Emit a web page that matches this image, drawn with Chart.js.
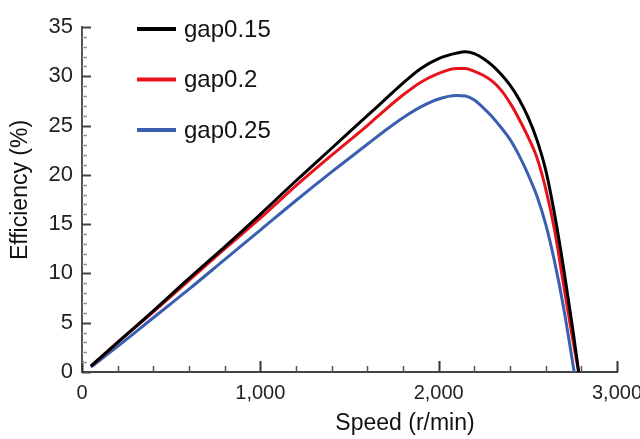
<!DOCTYPE html>
<html>
<head>
<meta charset="utf-8">
<script src="https://cdn.jsdelivr.net/npm/chart.js@4/dist/chart.umd.min.js"></script>
<style>
  body { margin: 0; background: #fff; }
  #wrap { width: 640px; height: 439px; }
</style>
</head>
<body>
<div id="wrap"><canvas id="myChart"></canvas></div>
<script>
const seriesNames = ["gap0.15", "gap0.2", "gap0.25"];
const seriesColors = ["#000000", "#e8121c", "#3b5fb0"];

const speed015 = [50, 200, 400, 600, 800, 1000, 1200, 1400, 1600, 1700, 1800, 1900, 2000, 2100, 2150, 2200, 2250, 2300, 2350, 2400, 2450, 2500, 2550, 2600, 2650, 2700, 2750, 2785];
const eff015 = [0.6, 3.0, 6.2, 9.5, 12.7, 16.0, 19.4, 22.7, 26.0, 27.65, 29.3, 30.8, 31.8, 32.35, 32.5, 32.3, 31.8, 31.1, 30.2, 29.1, 27.7, 25.9, 23.6, 20.5, 16.0, 10.6, 4.6, 0];

const speed02 = [50, 200, 400, 600, 800, 1000, 1200, 1400, 1600, 1700, 1800, 1900, 2000, 2100, 2150, 2200, 2250, 2300, 2350, 2400, 2450, 2500, 2550, 2600, 2650, 2700, 2750, 2785];
const eff02 = [0.6, 3.0, 6.1, 9.3, 12.5, 15.6, 18.9, 22.0, 25.0, 26.6, 28.1, 29.4, 30.3, 30.8, 30.8, 30.5, 30.1, 29.5, 28.6, 27.3, 25.7, 23.9, 21.8, 18.6, 14.4, 8.9, 3.5, 0];

const speed025 = [50, 200, 400, 600, 800, 1000, 1200, 1400, 1600, 1700, 1800, 1900, 2000, 2100, 2150, 2200, 2250, 2300, 2350, 2400, 2450, 2500, 2550, 2600, 2650, 2700, 2760];
const eff025 = [0.5, 2.6, 5.5, 8.4, 11.4, 14.4, 17.4, 20.3, 23.1, 24.5, 25.8, 26.9, 27.7, 28.05, 28.0, 27.6, 26.8, 25.9, 24.8, 23.6, 22.0, 20.1, 17.9, 15.0, 11.2, 6.6, 0];

const xTitle = "Speed (r/min)";
const yTitle = "Efficiency (%)";
const xMajor = 1000, xMinor = 200;
const yMajor = 5, yMinor = 1;

const toPoints = (xs, ys) => xs.map((x, i) => ({ x: x, y: ys[i] }));
const speeds = [speed015, speed02, speed025];
const effs = [eff015, eff02, eff025];

// inward ticks, legend box and axis titles
const decorations = {
  id: "decorations",
  afterDraw(chart) {
    const ctx = chart.ctx;
    const area = chart.chartArea;
    const xs = chart.scales.x;
    const ys = chart.scales.y;
    ctx.save();
    for (let v = xs.min; v <= xs.max; v += xMinor) {
      const px = Math.round(xs.getPixelForValue(v)) + 0.5;
      const major = v % xMajor === 0;
      ctx.strokeStyle = major ? "#333" : "#555";
      ctx.lineWidth = major ? 2 : 1.5;
      ctx.beginPath();
      ctx.moveTo(px, area.bottom);
      ctx.lineTo(px, area.bottom - (major ? 11 : 6));
      ctx.stroke();
    }
    for (let v = ys.min; v <= ys.max; v += yMinor) {
      const py = Math.round(ys.getPixelForValue(v)) + 0.5;
      const major = v % yMajor === 0;
      ctx.strokeStyle = major ? "#444" : "#999";
      ctx.lineWidth = major ? 2 : 1.5;
      ctx.beginPath();
      ctx.moveTo(area.left, py);
      ctx.lineTo(area.left + (major ? 9 : 5), py);
      ctx.stroke();
    }

    // legend
    ctx.font = "24px 'Liberation Sans', Arial, sans-serif";
    ctx.textBaseline = "middle";
    ctx.fillStyle = "#111";
    chart.data.datasets.forEach((ds, i) => {
      const y = area.top + 2 + i * 50.5;
      const x = area.left + 55;
      ctx.strokeStyle = ds.borderColor;
      ctx.lineWidth = 4;
      ctx.beginPath();
      ctx.moveTo(x, y);
      ctx.lineTo(x + 39, y);
      ctx.stroke();
      ctx.fillText(ds.label, x + 47, y + 1);
    });

    // axis titles
    ctx.font = "23px 'Liberation Sans', Arial, sans-serif";
    ctx.textAlign = "center";
    ctx.fillText(xTitle, area.left + 323, 424);
    ctx.translate(21, area.top + 163);
    ctx.rotate(-Math.PI / 2);
    ctx.fillText(yTitle, 0, 0);
    ctx.restore();
  }
};

function generateChart() {
  const info = {
    datasets: seriesNames.map((name, i) => ({
      label: name,
      data: toPoints(speeds[i], effs[i]),
      borderColor: seriesColors[i],
      backgroundColor: seriesColors[i],
      borderWidth: 3,
      pointRadius: 0,
      cubicInterpolationMode: "monotone",
      fill: false,
    })),
  };
  const options = {
    responsive: true,
    maintainAspectRatio: false,
    animation: false,
    layout: { padding: { left: 0, right: 23, top: 27, bottom: 0 } },
    scales: {
      x: {
        type: "linear",
        min: 0,
        max: 3000,
        afterFit: (s) => {
          s.height = 67;
          s.paddingLeft = 0;
          s.paddingRight = 0;
        },
        ticks: {
          stepSize: xMajor,
          maxRotation: 0,
          padding: 9,
          color: "#222",
          font: { size: 20, family: "'Liberation Sans', Arial, sans-serif" },
          callback: (v) => v.toLocaleString("en-US"),
        },
        grid: { display: false, drawTicks: false },
        border: { display: true, color: "#444", width: 2 },
      },
      y: {
        min: 0,
        max: 35,
        afterFit: (s) => {
          s.width = 82;
          s.paddingTop = 0;
          s.paddingBottom = 0;
        },
        ticks: {
          stepSize: yMajor,
          padding: 9,
          color: "#222",
          font: { size: 22, family: "'Liberation Sans', Arial, sans-serif" },
        },
        grid: { display: false, drawTicks: false },
        border: { display: true, color: "#555", width: 2 },
      },
    },
    plugins: {
      legend: { display: false },
      tooltip: { enabled: false },
    },
  };
  const config = {
    type: "line",
    data: info,
    options,
    plugins: [decorations],
  };
  const myChart = new Chart(document.getElementById("myChart"), config);
}
generateChart();
</script>
</body>
</html>
